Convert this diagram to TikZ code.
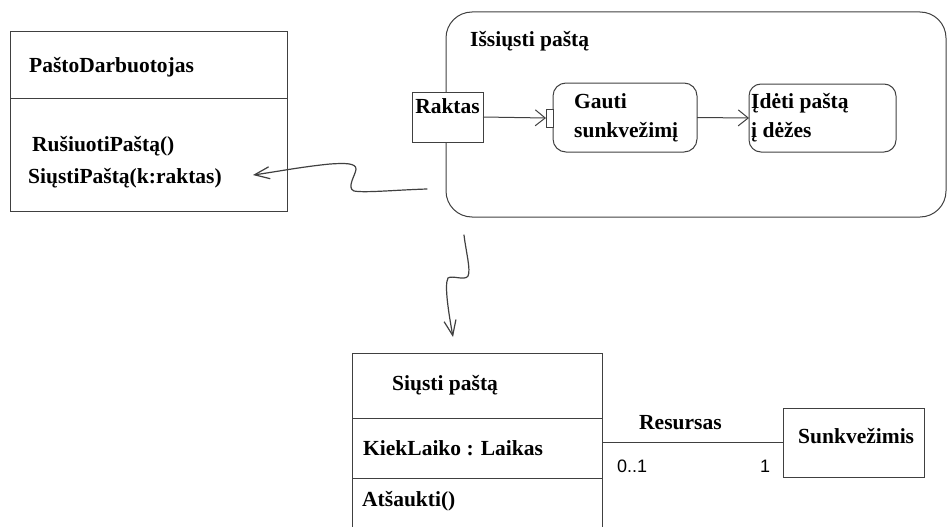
\documentclass[tikz,border=0pt]{standalone}
\usepackage{fontspec}
\setmainfont{Liberation Serif}
\newfontfamily\numfont{Liberation Sans}
\usetikzlibrary{arrows.meta}
\definecolor{linegray}{RGB}{64,64,64}
\begin{document}
\begin{tikzpicture}[x=1pt,y=-1pt,
  box/.style={draw=linegray, line width=1pt, inner sep=0pt, outer sep=0pt, anchor=north west},
  txt/.style={inner sep=0pt, anchor=base west, font=\fontsize{21.5}{29}\selectfont\bfseries},
  mult/.style={inner sep=0pt, anchor=base west, font=\numfont\fontsize{18}{20}\selectfont},
  divider/.style={draw=linegray, line width=1pt},
  link/.style={draw=linegray, line width=1pt, -{Straight Barb[length=10pt,width=16pt]}},
  wave/.style={draw=linegray, line width=1.2pt, line cap=round, -{Straight Barb[length=15pt,width=12pt]}},
]
\useasboundingbox (0,0) rectangle (947,527);

% class PastoDarbuotojas
\node[box, minimum width=277pt, minimum height=179pt] (pd) at (10,32) {};
\draw[divider] (10,98) -- (287,98);
\node[txt] (pdname) at (29,73) {PaštoDarbuotojas};
\node[txt] (op1) at (32,151) {RušiuotiPaštą()};
\node[txt] (op2) at (28,183) {SiųstiPaštą(k:raktas)};

% activity
\node[box, rounded corners=26pt, minimum width=500pt, minimum height=205pt] (act) at (446,12) {};
\node[txt] (acttitle) at (470,47) {Išsiųsti paštą};

\node[box, fill=white, minimum width=71pt, minimum height=50pt] (rk) at (412,92) {};
\node[txt, anchor=base] (rktxt) at (447.5,113) {Raktas};

\node[box, rounded corners=13pt, minimum width=144pt, minimum height=69pt] (ga) at (553,83) {};
\node[box, fill=white, minimum width=7pt, minimum height=18pt] (pin) at (546,109) {};
\node[txt] (ga1) at (574,108) {Gauti};
\node[txt] (ga2) at (574,137) {sunkvežimį};

\node[box, rounded corners=12pt, minimum width=147pt, minimum height=68pt] (id) at (749,84) {};
\node[txt] (id1) at (751,108) {Įdėti paštą};
\node[txt] (id2) at (751,137) {į dėžes};

\draw[link] (rk.east) -- (pin.west);
\draw[link] (ga.east) -- (id.west);

% class Siusti pasta
\begin{scope}
  \clip (0,0) rectangle (947,527);
  \node[box, minimum width=250pt, minimum height=200pt] (sp) at (352,353) {};
\end{scope}
\draw[divider] (352,418) -- (602,418);
\draw[divider] (352,478) -- (602,478);
\node[txt] (spname) at (392,390) {Siųsti paštą};
\node[txt] (spattr) at (363,455) {KiekLaiko : Laikas};
\node[txt] (spop) at (362,506) {Atšaukti()};

% class Sunkvezimis and association
\node[box, minimum width=141pt, minimum height=69pt] (sk) at (783,408) {};
\node[txt] (sktxt) at (798,443) {Sunkvežimis};
\draw[divider] (sp.east |- sk.west) -- (sk.west);
\node[txt] (assoc) at (639,429) {Resursas};
\node[mult] (m1) at (617,472) {0..1};
\node[mult] (m2) at (760,472) {1};

% refinement links
\coordinate (w1s) at (427,189);
\coordinate (w1e) at (253,175);
\draw[wave] (w1s) .. controls (395,190) and (365,193) .. (354,191)
  .. controls (346,188) and (356,174) .. (356,169)
  .. controls (356,163) and (345,163) .. (330,164)
  .. controls (300,167) and (275,172) .. (w1e);

\coordinate (w2s) at (464,235);
\coordinate (w2e) at (453,337);
\draw[wave] (w2s) .. controls (466,252) and (471,270) .. (468,276)
  .. controls (465,281) and (452,275) .. (448,278)
  .. controls (444,285) and (449,315) .. (w2e);
\end{tikzpicture}
\end{document}
